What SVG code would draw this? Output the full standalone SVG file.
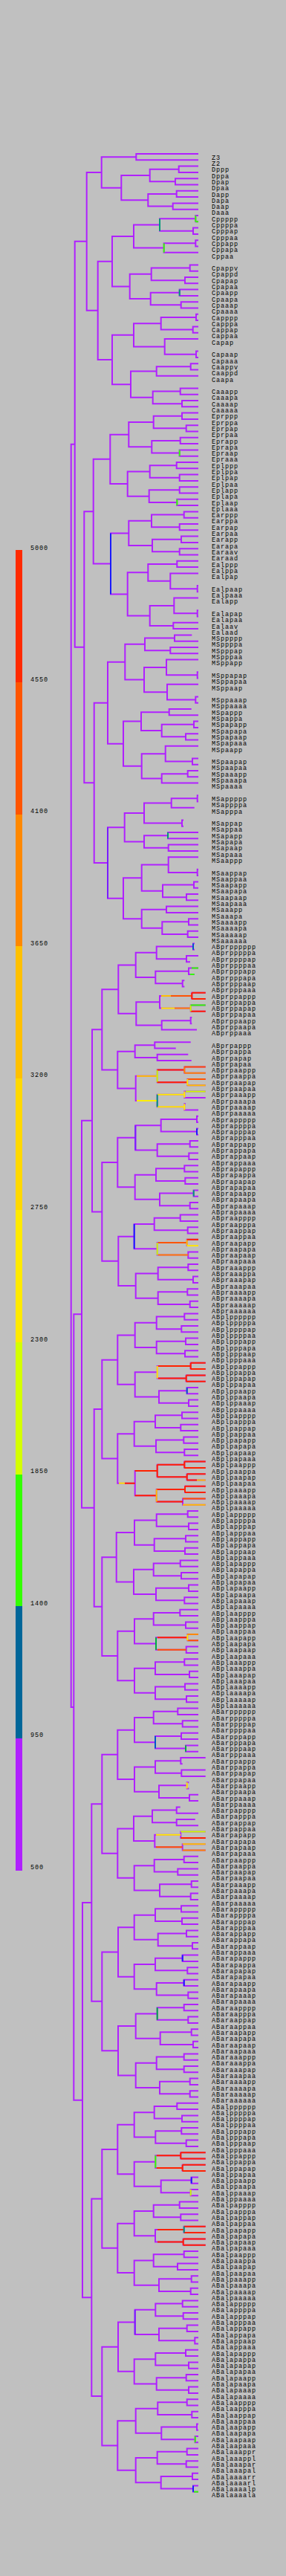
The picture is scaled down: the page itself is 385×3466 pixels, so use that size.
<svg xmlns="http://www.w3.org/2000/svg" width="385" height="3466" viewBox="0 0 385 3466">
<style>
.e path{fill:none;stroke:#B020FF;stroke-width:2;vector-effect:non-scaling-stroke;stroke-linejoin:miter;stroke-linecap:butt}
.o path{fill:none;stroke-width:2;vector-effect:non-scaling-stroke;stroke-linecap:butt}
.R{stroke:#FF2200}.OR{stroke:#FF5500}.O{stroke:#FF8800}.A{stroke:#FFC000}.Y{stroke:#FFEE00}.YG{stroke:#CCFF00}.G{stroke:#33FF00}.T{stroke:#009977}.B{stroke:#1A1AFF}.BP{stroke:#7A1CFF}.DB{stroke:#0055CC}.DG{stroke:#00AA44}
text{font-family:"Liberation Mono","DejaVu Sans Mono",monospace;font-size:8.5px;letter-spacing:0.9px;fill:#000}
</style>
<rect width="385" height="3466" fill="#C0C0C0"/>
<g id="legend">
<rect x="21" y="740" width="9" height="178" fill="#FF2A00"/>
<rect x="21" y="918" width="9" height="178" fill="#FF5500"/>
<rect x="21" y="1096" width="9" height="177" fill="#FF8800"/>
<rect x="21" y="1273" width="9" height="178" fill="#FFC000"/>
<rect x="21" y="1451" width="9" height="177" fill="#FFD800"/>
<rect x="21" y="1628" width="9" height="178" fill="#FFEA00"/>
<rect x="21" y="1806" width="9" height="178" fill="#D4FF00"/>
<rect x="21" y="1984" width="9" height="177" fill="#33FF00"/>
<rect x="21" y="2161" width="9" height="178" fill="#006699"/>
<rect x="21" y="2339" width="9" height="178" fill="#B020FF"/>
<text x="41" y="739.5">5000</text>
<text x="41" y="917.4">4550</text>
<text x="41" y="1094.4">4100</text>
<text x="41" y="1272.4">3650</text>
<text x="41" y="1449.4">3200</text>
<text x="41" y="1627.4">2750</text>
<text x="41" y="1805.4">2300</text>
<text x="41" y="1982.4">1850</text>
<text x="41" y="2160.4">1400</text>
<text x="41" y="2337.4">950</text>
<text x="41" y="2515">500</text>
</g>
<g id="connectors" class="e" transform="matrix(1 0 0 8.3 0 207)">
<path id="c-P4" d="M267 0H183.3V1H267"/>
<path id="c-Dpp" d="M267 2H240.7V3H267"/>
<path id="c-Dpa" d="M267 4H236V5H267"/>
<path id="c-Dp" d="M240.7 2.5H201.7V4.5H236"/>
<path id="c-Dap" d="M267 6H237.7V7H267"/>
<path id="c-Daa" d="M267 8H232.7V9H267"/>
<path id="c-Da" d="M237.7 6.5H199.3V8.5H232.7"/>
<path id="c-D" d="M201.7 3.5H163.3V7.5H199.3"/>
<path id="c-P3" d="M183.3 0.5H136.7V5.5H163.3"/>
<path id="c-Cpppp" d="M267 10H263.3V11H267"/>
<path id="c-Cpppa" d="M267 12H260V13H267"/>
<path id="c-Cppp" d="M263.3 10.5H215V12.5H260"/>
<path id="c-Cppap" d="M267 14H263.3V15H267"/>
<path id="c-Cppa" d="M263.3 14.5H220.7V16H267"/>
<path id="c-Cpp" d="M215 11.5H180V15.25H220.7"/>
<path id="c-Cpapp" d="M267 18H255.7V19H267"/>
<path id="c-Cpapa" d="M267 20H249V21H267"/>
<path id="c-Cpap" d="M255.7 18.5H203.7V20.5H249"/>
<path id="c-Cpaap" d="M267 22H241.7V23H267"/>
<path id="c-Cpaaa" d="M267 24H243.7V25H267"/>
<path id="c-Cpaa" d="M241.7 22.5H202.7V24.5H243.7"/>
<path id="c-Cpa" d="M203.7 19.5H174.7V23.5H202.7"/>
<path id="c-Cp" d="M180 13.375H151V21.5H174.7"/>
<path id="c-Cappp" d="M267 26H264V27H267"/>
<path id="c-Cappa" d="M267 28H259.7V29H267"/>
<path id="c-Capp" d="M264 26.5H216.7V28.5H259.7"/>
<path id="c-Capaa" d="M267 32H264V33H267"/>
<path id="c-Capa" d="M267 30H221.7V32.5H264"/>
<path id="c-Cap" d="M216.7 27.5H180V31.25H221.7"/>
<path id="c-Caapp" d="M267 34H256.7V35H267"/>
<path id="c-Caap" d="M256.7 34.5H210.7V36H267"/>
<path id="c-Caaap" d="M267 38H242.7V39H267"/>
<path id="c-Caaaa" d="M267 40H245V41H267"/>
<path id="c-Caaa" d="M242.7 38.5H205.7V40.5H245"/>
<path id="c-Caa" d="M210.7 35.25H176V39.5H205.7"/>
<path id="c-Ca" d="M180 29.375H151V37.375H176"/>
<path id="c-C" d="M151 17.4375H131.7V33.375H151"/>
<path id="c-P2" d="M136.7 3H116.7V25.406H131.7"/>
<path id="c-Eprpp" d="M267 42H245V43H267"/>
<path id="c-Eprpa" d="M267 44H250.7V45H267"/>
<path id="c-Eprp" d="M245 42.5H206.7V44.5H250.7"/>
<path id="c-Eprap" d="M267 46H242.7V47H267"/>
<path id="c-Epraa" d="M267 48H241.7V49H267"/>
<path id="c-Epra" d="M242.7 46.5H204.3V48.5H241.7"/>
<path id="c-Epr" d="M206.7 43.5H173.3V47.5H204.3"/>
<path id="c-Eplpp" d="M267 50H237.7V51H267"/>
<path id="c-Eplpa" d="M267 52H241.7V53H267"/>
<path id="c-Eplp" d="M237.7 50.5H201.7V52.5H241.7"/>
<path id="c-Eplap" d="M267 54H241.7V55H267"/>
<path id="c-Eplaa" d="M267 56H238.3V57H267"/>
<path id="c-Epla" d="M241.7 54.5H200.7V56.5H238.3"/>
<path id="c-Epl" d="M201.7 51.5H171.7V55.5H200.7"/>
<path id="c-Ep" d="M173.3 45.5H148.3V53.5H171.7"/>
<path id="c-Earpp" d="M267 58H247.7V59H267"/>
<path id="c-Earpa" d="M267 60H241.7V61H267"/>
<path id="c-Earp" d="M247.7 58.5H204V60.5H241.7"/>
<path id="c-Earap" d="M267 62H244V63H267"/>
<path id="c-Earaa" d="M267 64H241.7V65H267"/>
<path id="c-Eara" d="M244 62.5H205V64.5H241.7"/>
<path id="c-Ear" d="M204 59.5H173.3V63.5H205"/>
<path id="c-Ealpp" d="M267 66H238.3V67H267"/>
<path id="c-Ealpaa" d="M267 70H265.7V71H267"/>
<path id="c-Ealpa" d="M267 68H229.3V70.5H265.7"/>
<path id="c-Ealp" d="M238.3 66.5H199.3V69.25H229.3"/>
<path id="c-Ealapa" d="M267 74H265.7V75H267"/>
<path id="c-Ealap" d="M267 72H234.3V74.5H265.7"/>
<path id="c-Ealaa" d="M267 76H233.3V77H267"/>
<path id="c-Eala" d="M234.3 73.25H201.7V76.5H233.3"/>
<path id="c-Eal" d="M199.3 67.875H171.7V74.875H201.7"/>
<path id="c-Ea" d="M173.3 61.5H149V71.375H171.7"/>
<path id="c-E" d="M148.3 49.5H125.7V66.4375H149"/>
<path id="c-MSpppp" d="M258.3 78H235V79H267"/>
<path id="c-MSpppa" d="M267 80H229.3V81H267"/>
<path id="c-MSppp" d="M235 78.5H195V80.5H229.3"/>
<path id="c-MSppapa" d="M267 84H265.7V85H267"/>
<path id="c-MSppap" d="M267 82H224V84.5H265.7"/>
<path id="c-MSppaaa" d="M267 88H263.3V89H267"/>
<path id="c-MSppaa" d="M267 86H225V88.5H263.3"/>
<path id="c-MSppa" d="M224 83.25H194V87.25H225"/>
<path id="c-MSpp" d="M195 79.5H168.3V85.25H194"/>
<path id="c-MSpapp" d="M257.7 90H227.7V91H267"/>
<path id="c-MSpapap" d="M267 92H261V93H267"/>
<path id="c-MSpapaa" d="M267 94H250V95H267"/>
<path id="c-MSpapa" d="M261 92.5H217.7V94.5H250"/>
<path id="c-MSpap" d="M227.7 90.5H190V93.5H217.7"/>
<path id="c-MSpaapa" d="M267 98H259V99H267"/>
<path id="c-MSpaap" d="M267 96H222.7V98.5H259"/>
<path id="c-MSpaaap" d="M267 100H252.7V101H267"/>
<path id="c-MSpaaa" d="M252.7 100.5H217.7V102H267"/>
<path id="c-MSpaa" d="M222.7 97.25H190.7V101.25H217.7"/>
<path id="c-MSpa" d="M190 92H166V99.25H190.7"/>
<path id="c-MSp" d="M168.3 82.375H145V95.625H166"/>
<path id="c-MSapppp" d="M267 104H265.7V105H267"/>
<path id="c-MSappp" d="M265.7 104.5H230.7V106H261.7"/>
<path id="c-MSappa" d="M247 108H245V109H247"/>
<path id="c-MSapp" d="M230.7 105.25H194V108.5H245"/>
<path id="c-MSapap" d="M267 110H226V111H267"/>
<path id="c-MSapaa" d="M267 112H226.7V113H267"/>
<path id="c-MSapa" d="M226 110.5H194V112.5H226.7"/>
<path id="c-MSap" d="M194 106.875H167.7V111.5H194"/>
<path id="c-MSaappa" d="M267 116H265.7V117H267"/>
<path id="c-MSaapp" d="M267 114H226.7V116.5H265.7"/>
<path id="c-MSaapap" d="M267 118H261V119H267"/>
<path id="c-MSaapaa" d="M267 120H251V121H267"/>
<path id="c-MSaapa" d="M261 118.5H219V120.5H251"/>
<path id="c-MSaap" d="M226.7 115.25H190.7V119.5H219"/>
<path id="c-MSaaap" d="M267 122H224V123H267"/>
<path id="c-MSaaaap" d="M267 124H254V125H267"/>
<path id="c-MSaaaaa" d="M267 126H252.7V127H267"/>
<path id="c-MSaaaa" d="M254 124.5H218.3V126.5H252.7"/>
<path id="c-MSaaa" d="M224 122.5H190.7V125.5H218.3"/>
<path id="c-MSaa" d="M190.7 117.375H166V124H190.7"/>
<path id="c-MSa" d="M167.7 109.19H145V120.69H166"/>
<path id="c-MS" d="M145 89H126.7V114.94H145"/>
<path id="c-EMS" d="M125.7 57.97H113.3V101.97H126.7"/>
<path id="c-P1" d="M116.7 14.2H100.7V79.97H113.3"/>
<path id="c-ABprppppp" d="M262 128H260V129H262"/>
<path id="c-ABprppppa" d="M267 130H251V131H256"/>
<path id="c-ABprpppp" d="M260 128.5H210.7V130.5H251"/>
<path id="c-ABprpppap" d="M267 132H254V133H261.7"/>
<path id="c-ABprpppaa" d="M248.3 134H245.7V135H248.3"/>
<path id="c-ABprpppa" d="M254 132.5H209.3V134.5H245.7"/>
<path id="c-ABprppp" d="M210.7 129.5H182.7V133.5H209.3"/>
<path id="c-ABprppapp" d="M276.7 136H258.3V137H276.7"/>
<path id="c-ABprppapa" d="M276.7 138H256.7V139H276.7"/>
<path id="c-ABprppap" d="M258.3 136.5H215V138.5H256.7"/>
<path id="c-ABprppaap" d="M258.3 140H256.7V141H258.3"/>
<path id="c-ABprppaa" d="M256.7 140.5H217.7V142H265"/>
<path id="c-ABprppa" d="M215 137.5H183.3V141.25H217.7"/>
<path id="c-ABprpp" d="M182.7 131.5H159.3V139.375H183.3"/>
<path id="c-ABprpapp" d="M256.7 144H208.3V145H236.7"/>
<path id="c-ABprpapa" d="M253.3 146H211.7V147H257.7"/>
<path id="c-ABprpap" d="M208.3 144.5H181.7V146.5H211.7"/>
<path id="c-ABprpaapp" d="M276.7 148H248.3V149H276.7"/>
<path id="c-ABprpaapa" d="M276.7 150H252.3V151H276.7"/>
<path id="c-ABprpaap" d="M248.3 148.5H211.7V150.5H252.3"/>
<path id="c-ABprpaaap" d="M276.7 152H248.3V153H276.7"/>
<path id="c-ABprpaaaa" d="M250 154H248.3V155H267"/>
<path id="c-ABprpaaa" d="M248.3 152.5H211.7V154.5H248.3"/>
<path id="c-ABprpaa" d="M211.7 149.5H182.7V153.5H211.7"/>
<path id="c-ABprpa" d="M181.7 145.5H158.3V151.5H182.7"/>
<path id="c-ABprp" d="M159.3 135.4375H137.3V148.5H158.3"/>
<path id="c-ABprapppp" d="M267 156H265V157H267"/>
<path id="c-ABprapppa" d="M267 158H265V159H267"/>
<path id="c-ABprappp" d="M265 156.5H216.7V158.5H265"/>
<path id="c-ABprappap" d="M267 160H255.7V161H267"/>
<path id="c-ABprappaa" d="M267 162H254.3V163H267"/>
<path id="c-ABprappa" d="M255.7 160.5H211.7V162.5H254.3"/>
<path id="c-ABprapp" d="M216.7 157.5H182.3V161.5H211.7"/>
<path id="c-ABprapapp" d="M267 164H248.3V165H267"/>
<path id="c-ABprapapa" d="M267 166H249.3V167H267"/>
<path id="c-ABprapap" d="M248.3 164.5H210V166.5H249.3"/>
<path id="c-ABprapaap" d="M267 168H260.7V169H267"/>
<path id="c-ABprapaaa" d="M267 170H255.7V171H267"/>
<path id="c-ABprapaa" d="M260.7 168.5H215V170.5H255.7"/>
<path id="c-ABprapa" d="M210 165.5H181.7V169.5H215"/>
<path id="c-ABprap" d="M182.3 159.5H158.3V167.5H181.7"/>
<path id="c-ABpraappp" d="M267 172H242.7V173H267"/>
<path id="c-ABpraappa" d="M267 174H252.7V175H267"/>
<path id="c-ABpraapp" d="M242.7 172.5H207.7V174.5H252.7"/>
<path id="c-ABpraapap" d="M267 176H251.7V177H267"/>
<path id="c-ABpraapaa" d="M267 178H253.3V179H267"/>
<path id="c-ABpraapa" d="M251.7 176.5H211.7V178.5H253.3"/>
<path id="c-ABpraap" d="M207.7 173.5H180.7V177.5H211.7"/>
<path id="c-ABpraaapp" d="M267 180H253.3V181H267"/>
<path id="c-ABpraaapa" d="M267 182H260V183H267"/>
<path id="c-ABpraaap" d="M253.3 180.5H212.7V182.5H260"/>
<path id="c-ABpraaaap" d="M267 184H252.3V185H267"/>
<path id="c-ABpraaaaa" d="M267 186H255.7V187H267"/>
<path id="c-ABpraaaa" d="M252.3 184.5H212.7V186.5H255.7"/>
<path id="c-ABpraaa" d="M212.7 181.5H182.7V185.5H212.7"/>
<path id="c-ABpraa" d="M180.7 175.5H159.3V183.5H182.7"/>
<path id="c-ABpra" d="M158.3 163.5H137.3V179.5H159.3"/>
<path id="c-ABpr" d="M137.3 141.97H124V171.5H137.3"/>
<path id="c-ABplppppp" d="M267 188H248.3V189H267"/>
<path id="c-ABplppppa" d="M267 190H244.3V191H267"/>
<path id="c-ABplpppp" d="M248.3 188.5H210.7V190.5H244.3"/>
<path id="c-ABplpppap" d="M267 192H250V193H267"/>
<path id="c-ABplpppaa" d="M267 194H249V195H267"/>
<path id="c-ABplpppa" d="M250 192.5H210.7V194.5H249"/>
<path id="c-ABplppp" d="M210.7 189.5H181.7V193.5H210.7"/>
<path id="c-ABplppapp" d="M276.7 196H256.7V197H276.7"/>
<path id="c-ABplppapa" d="M276.7 198H250.7V199H276.7"/>
<path id="c-ABplppap" d="M256.7 196.5H211.7V198.5H250.7"/>
<path id="c-ABplppaap" d="M267 200H251.7V201H267"/>
<path id="c-ABplppaaa" d="M267 202H254V203H267"/>
<path id="c-ABplppaa" d="M251.7 200.5H214V202.5H254"/>
<path id="c-ABplppa" d="M211.7 197.5H181.7V201.5H214"/>
<path id="c-ABplpp" d="M181.7 191.5H158.3V199.5H181.7"/>
<path id="c-ABplpappp" d="M267 204H245V205H267"/>
<path id="c-ABplpappa" d="M267 206H243.3V207H267"/>
<path id="c-ABplpapp" d="M245 204.5H209V206.5H243.3"/>
<path id="c-ABplpapap" d="M267 208H247.3V209H267"/>
<path id="c-ABplpapaa" d="M267 210H248.3V211H267"/>
<path id="c-ABplpapa" d="M247.3 208.5H210V210.5H248.3"/>
<path id="c-ABplpap" d="M209 205.5H180.7V209.5H210"/>
<path id="c-ABplpaapp" d="M276.7 212H248.3V213H276.7"/>
<path id="c-ABplpaapa" d="M276.7 214H251.7V215H276.7"/>
<path id="c-ABplpaap" d="M248.3 212.5H211.7V214.5H251.7"/>
<path id="c-ABplpaaap" d="M276.7 216H249V217H276.7"/>
<path id="c-ABplpaaaa" d="M276.7 218H246V219H276.7"/>
<path id="c-ABplpaaa" d="M249 216.5H210.7V218.5H246"/>
<path id="c-ABplpaa" d="M211.7 213.5H181.7V217.5H210.7"/>
<path id="c-ABplpa" d="M180.7 207.5H158.3V215.5H181.7"/>
<path id="c-ABplp" d="M158.3 195.5H137.3V211.5H158.3"/>
<path id="c-ABplapppp" d="M267 220H252.7V221H267"/>
<path id="c-ABplapppa" d="M267 222H254V223H267"/>
<path id="c-ABplappp" d="M252.7 220.5H210.7V222.5H254"/>
<path id="c-ABplappap" d="M267 224H250V225H267"/>
<path id="c-ABplappaa" d="M267 226H249V227H267"/>
<path id="c-ABplappa" d="M250 224.5H207.7V226.5H249"/>
<path id="c-ABplapp" d="M210.7 221.5H181V225.5H207.7"/>
<path id="c-ABplapapp" d="M267 228H242.7V229H267"/>
<path id="c-ABplapapa" d="M267 230H244V231H267"/>
<path id="c-ABplapap" d="M242.7 228.5H206.7V230.5H244"/>
<path id="c-ABplapaap" d="M267 232H254V233H267"/>
<path id="c-ABplapaaa" d="M267 234H248.3V235H267"/>
<path id="c-ABplapaa" d="M254 232.5H210V234.5H248.3"/>
<path id="c-ABplapa" d="M206.7 229.5H180V233.5H210"/>
<path id="c-ABplap" d="M181 223.5H156.7V231.5H180"/>
<path id="c-ABplaappp" d="M267 236H242.3V237H267"/>
<path id="c-ABplaappa" d="M267 238H250V239H267"/>
<path id="c-ABplaapp" d="M242.3 236.5H206.7V238.5H250"/>
<path id="c-ABplaapap" d="M267 240H252.3V241H267"/>
<path id="c-ABplaapaa" d="M267 242H250.7V243H267"/>
<path id="c-ABplaapa" d="M252.3 240.5H210V242.5H250.7"/>
<path id="c-ABplaap" d="M206.7 237.5H181V241.5H210"/>
<path id="c-ABplaaapp" d="M267 244H248.3V245H267"/>
<path id="c-ABplaaapa" d="M267 246H255V247H267"/>
<path id="c-ABplaaap" d="M248.3 244.5H209V246.5H255"/>
<path id="c-ABplaaaap" d="M267 248H249V249H267"/>
<path id="c-ABplaaaaa" d="M267 250H251V251H267"/>
<path id="c-ABplaaaa" d="M249 248.5H209V250.5H251"/>
<path id="c-ABplaaa" d="M209 245.5H181V249.5H209"/>
<path id="c-ABplaa" d="M181 239.5H158.3V247.5H181"/>
<path id="c-ABpla" d="M156.7 227.5H137.3V243.5H158.3"/>
<path id="c-ABpl" d="M137.3 203.5H126.7V235.5H137.3"/>
<path id="c-ABp" d="M124 156.73H110V219.5H126.7"/>
<path id="c-ABarppppp" d="M267 252H239.3V253H267"/>
<path id="c-ABarppppa" d="M267 254H245.7V255H267"/>
<path id="c-ABarpppp" d="M239.3 252.5H206.7V254.5H245.7"/>
<path id="c-ABarpppap" d="M267 256H244V257H267"/>
<path id="c-ABarpppaa" d="M267 258H250V259H267"/>
<path id="c-ABarpppa" d="M244 256.5H209V258.5H250"/>
<path id="c-ABarppp" d="M206.7 253.5H181V257.5H209"/>
<path id="c-ABarppapp" d="M276.7 260H243.3V261H245.7"/>
<path id="c-ABarppapa" d="M276.7 262H244.3V263H276.7"/>
<path id="c-ABarppap" d="M243.3 260.5H209V262.5H244.3"/>
<path id="c-ABarppaap" d="M254.3 264H251.7V265H254.3"/>
<path id="c-ABarppaaa" d="M267 266H255V267H267"/>
<path id="c-ABarppaa" d="M251.7 264.5H214V266.5H255"/>
<path id="c-ABarppa" d="M209 261.5H181V265.5H214"/>
<path id="c-ABarpp" d="M181 255.5H158.3V263.5H181"/>
<path id="c-ABarpappp" d="M242.7 268H237.7V269H267"/>
<path id="c-ABarpappa" d="M262.7 270H237.7V271H267"/>
<path id="c-ABarpapp" d="M237.7 268.5H205V270.5H237.7"/>
<path id="c-ABarpapap" d="M276.7 272H243.3V273H276.7"/>
<path id="c-ABarpapaa" d="M276.7 274H245.7V275H276.7"/>
<path id="c-ABarpapa" d="M243.3 272.5H208.3V274.5H245.7"/>
<path id="c-ABarpap" d="M205 269.5H180V273.5H208.3"/>
<path id="c-ABarpaapp" d="M267 276H247.7V277H267"/>
<path id="c-ABarpaapa" d="M267 278H239.3V279H267"/>
<path id="c-ABarpaap" d="M247.7 276.5H207.7V278.5H239.3"/>
<path id="c-ABarpaaap" d="M267 280H257.7V281H267"/>
<path id="c-ABarpaaaa" d="M267 282H256.7V283H267"/>
<path id="c-ABarpaaa" d="M257.7 280.5H215V282.5H256.7"/>
<path id="c-ABarpaa" d="M207.7 277.5H180.7V281.5H215"/>
<path id="c-ABarpa" d="M180 271.5H158.3V279.5H180.7"/>
<path id="c-ABarp" d="M158.3 259.5H137.3V275.5H158.3"/>
<path id="c-ABarapppp" d="M267 284H244V285H267"/>
<path id="c-ABarapppa" d="M267 286H245V287H267"/>
<path id="c-ABarappp" d="M244 284.5H209V286.5H245"/>
<path id="c-ABarappap" d="M267 288H251V289H267"/>
<path id="c-ABarappaa" d="M267 290H259V291H267"/>
<path id="c-ABarappa" d="M251 288.5H212.7V290.5H259"/>
<path id="c-ABarapp" d="M209 285.5H180.7V289.5H212.7"/>
<path id="c-ABarapapp" d="M267 292H245.7V293H267"/>
<path id="c-ABarapapa" d="M267 294H252.3V295H267"/>
<path id="c-ABarapap" d="M245.7 292.5H209V294.5H252.3"/>
<path id="c-ABarapaap" d="M267 296H247.7V297H267"/>
<path id="c-ABarapaaa" d="M267 298H253.3V299H267"/>
<path id="c-ABarapaa" d="M247.7 296.5H210.7V298.5H253.3"/>
<path id="c-ABarapa" d="M209 293.5H180.7V297.5H210.7"/>
<path id="c-ABarap" d="M180.7 287.5H159V295.5H180.7"/>
<path id="c-ABaraappp" d="M267 300H247.7V301H267"/>
<path id="c-ABaraappa" d="M267 302H253.3V303H267"/>
<path id="c-ABaraapp" d="M247.7 300.5H211.7V302.5H253.3"/>
<path id="c-ABaraapap" d="M267 304H257.7V305H267"/>
<path id="c-ABaraapaa" d="M267 306H260V307H267"/>
<path id="c-ABaraapa" d="M257.7 304.5H215.7V306.5H260"/>
<path id="c-ABaraap" d="M211.7 301.5H182.7V305.5H215.7"/>
<path id="c-ABaraaapp" d="M267 308H247.7V309H267"/>
<path id="c-ABaraaapa" d="M267 310H247.7V311H267"/>
<path id="c-ABaraaap" d="M247.7 308.5H210.7V310.5H247.7"/>
<path id="c-ABaraaaap" d="M267 312H255.7V313H267"/>
<path id="c-ABaraaaaa" d="M267 314H255.7V315H267"/>
<path id="c-ABaraaaa" d="M255.7 312.5H215V314.5H255.7"/>
<path id="c-ABaraaa" d="M210.7 309.5H182.7V313.5H215"/>
<path id="c-ABaraa" d="M182.7 303.5H159V311.5H182.7"/>
<path id="c-ABara" d="M159 291.5H137.3V307.5H159"/>
<path id="c-ABar" d="M137.3 267.5H123.3V299.5H137.3"/>
<path id="c-ABalppppp" d="M267 316H238.3V317H267"/>
<path id="c-ABalppppa" d="M267 318H245V319H267"/>
<path id="c-ABalpppp" d="M238.3 316.5H207.7V318.5H245"/>
<path id="c-ABalpppap" d="M267 320H244.3V321H267"/>
<path id="c-ABalpppaa" d="M267 322H250.7V323H267"/>
<path id="c-ABalpppa" d="M244.3 320.5H209.3V322.5H250.7"/>
<path id="c-ABalppp" d="M207.7 317.5H180.7V321.5H209.3"/>
<path id="c-ABalppapp" d="M276.7 324H243.3V325H276.7"/>
<path id="c-ABalppapa" d="M276.7 326H245.7V327H276.7"/>
<path id="c-ABalppap" d="M243.3 324.5H209.3V326.5H245.7"/>
<path id="c-ABalppaap" d="M267 328H257.7V329H267"/>
<path id="c-ABalppaaa" d="M267 330H256.7V331H267"/>
<path id="c-ABalppaa" d="M257.7 328.5H216.7V330.5H256.7"/>
<path id="c-ABalppa" d="M209.3 325.5H180.7V329.5H216.7"/>
<path id="c-ABalpp" d="M180.7 319.5H158.3V327.5H180.7"/>
<path id="c-ABalpappp" d="M267 332H241.7V333H267"/>
<path id="c-ABalpappa" d="M267 334H243.3V335H267"/>
<path id="c-ABalpapp" d="M241.7 332.5H206.7V334.5H243.3"/>
<path id="c-ABalpapap" d="M276.7 336H247.7V337H276.7"/>
<path id="c-ABalpapaa" d="M276.7 338H246.7V339H276.7"/>
<path id="c-ABalpapa" d="M247.7 336.5H209V338.5H246.7"/>
<path id="c-ABalpap" d="M206.7 333.5H180.7V337.5H209"/>
<path id="c-ABalpaapp" d="M267 340H247.7V341H267"/>
<path id="c-ABalpaapa" d="M267 342H239V343H267"/>
<path id="c-ABalpaap" d="M247.7 340.5H206.7V342.5H239"/>
<path id="c-ABalpaaap" d="M267 344H257.7V345H267"/>
<path id="c-ABalpaaaa" d="M267 346H256.7V347H267"/>
<path id="c-ABalpaaa" d="M257.7 344.5H214V346.5H256.7"/>
<path id="c-ABalpaa" d="M206.7 341.5H180.7V345.5H214"/>
<path id="c-ABalpa" d="M180.7 335.5H158.3V343.5H180.7"/>
<path id="c-ABalp" d="M158.3 323.5H137.3V339.5H158.3"/>
<path id="c-ABalapppp" d="M267 348H245.7V349H267"/>
<path id="c-ABalapppa" d="M267 350H246.7V351H267"/>
<path id="c-ABalappp" d="M245.7 348.5H209.3V350.5H246.7"/>
<path id="c-ABalappap" d="M267 352H251.7V353H267"/>
<path id="c-ABalappaa" d="M267 354H262.3V355H267"/>
<path id="c-ABalappa" d="M251.7 352.5H214V354.5H262.3"/>
<path id="c-ABalapp" d="M209.3 349.5H181.7V353.5H214"/>
<path id="c-ABalapapp" d="M267 356H250V357H267"/>
<path id="c-ABalapapa" d="M267 358H254V359H267"/>
<path id="c-ABalapap" d="M250 356.5H209.3V358.5H254"/>
<path id="c-ABalapaap" d="M267 360H250.7V361H267"/>
<path id="c-ABalapaaa" d="M267 362H254V363H267"/>
<path id="c-ABalapaa" d="M250.7 360.5H210.7V362.5H254"/>
<path id="c-ABalapa" d="M209.3 357.5H180.7V361.5H210.7"/>
<path id="c-ABalap" d="M181.7 351.5H159V359.5H180.7"/>
<path id="c-ABalaappp" d="M267 364H251.7V365H267"/>
<path id="c-ABalaappa" d="M267 366H258.3V367H267"/>
<path id="c-ABalaapp" d="M251.7 364.5H212.3V366.5H258.3"/>
<path id="c-ABalaapap" d="M267 368H265V369H267"/>
<path id="c-ABalaapaa" d="M267 370H262.7V371H267"/>
<path id="c-ABalaapa" d="M265 368.5H217.3V370.5H262.7"/>
<path id="c-ABalaap" d="M212.3 365.5H182.7V369.5H217.3"/>
<path id="c-ABalaaapp" d="M267 372H251.7V373H267"/>
<path id="c-ABalaaapa" d="M267 374H250.7V375H267"/>
<path id="c-ABalaaap" d="M251.7 372.5H211.7V374.5H250.7"/>
<path id="c-ABalaaaar" d="M267 376H259V377H267"/>
<path id="c-ABalaaaal" d="M267 378H260V379H267"/>
<path id="c-ABalaaaa" d="M259 376.5H216.7V378.5H260"/>
<path id="c-ABalaaa" d="M211.7 373.5H182.7V377.5H216.7"/>
<path id="c-ABalaa" d="M182.7 367.5H158.3V375.5H182.7"/>
<path id="c-ABala" d="M159 355.5H137.3V371.5H158.3"/>
<path id="c-ABal" d="M137.3 331.5H123.3V363.5H137.3"/>
<path id="c-ABa" d="M123.3 283.5H111V347.5H123.3"/>
<path id="c-AB" d="M110 188.11H99.3V315.5H111"/>
<path id="c-P0" d="M100.7 47.09H95.7V251.8H99.3"/>
</g>
<g id="highlights" class="o" transform="matrix(1 0 0 8.3 0 207)">
<path class="T" d="M215 10.5V12.5"/>
<path class="G" d="M263.3 10V11M263.3 11H267"/>
<path class="G" d="M220.7 14.5V16"/>
<path class="T" d="M241.7 22V23"/>
<path class="G" d="M241.7 48V49"/>
<path class="G" d="M238.3 56V57"/>
<path class="B" d="M149 61.5V71.375"/>
<path class="BP" d="M145 109.19V120.69"/>
<path class="T" d="M226 110V111"/>
<path class="DB" d="M260 128V129"/>
<path class="G" d="M258 132H267M256 133H261.7"/>
<path class="A" d="M217 136.5H230"/>
<path class="OR" d="M230 136.5H258.3"/>
<path class="Y" d="M217 138.5H235"/>
<path class="O" d="M235 138.5H256.7"/>
<path class="R" d="M258.3 136V137M258.3 136H276.7M258.3 137H276.7M256.7 139H276.7"/>
<path class="YG" d="M256.7 138V139"/>
<path class="G" d="M256.7 138H276.7"/>
<path class="A" d="M184 149.5H211.7"/>
<path class="YG" d="M211.7 148.5V150.5"/>
<path class="R" d="M211.7 148.5H248.3M211.7 150.5H252.3"/>
<path class="O" d="M248.3 148V149M248.3 149H276.7"/>
<path class="OR" d="M248.3 148H276.7M252.3 150H276.7"/>
<path class="Y" d="M252.3 150V151"/>
<path class="A" d="M252.3 151H276.7"/>
<path class="Y" d="M184 153.5H211.7M211.7 152.5H248.3M211.7 154.5H248.3M248.3 152V153M248.3 154V155"/>
<path class="T" d="M211.7 152.5V154.5"/>
<path class="YG" d="M250 152H276.7"/>
<path class="BP" d="M182.3 157.5V161.5"/>
<path class="B" d="M265 158V159"/>
<path class="T" d="M260.7 168V169"/>
<path class="B" d="M180.7 173.5V177.5"/>
<path class="YG" d="M211.7 176.5V178.5"/>
<path class="OR" d="M213 176.5H251.7"/>
<path class="O" d="M213 178.5H253.3"/>
<path class="A" d="M251.7 176V177"/>
<path class="R" d="M251.7 176H267"/>
<path class="Y" d="M251.7 177H267"/>
<path class="Y" d="M211.7 196.5V198.5"/>
<path class="R" d="M213 196.5H256.7M213 198.5H250.7M256.7 196V197M250.7 198V199M256.7 196H276.7M256.7 197H276.7M250.7 198H276.7M250.7 199H276.7"/>
<path class="DB" d="M251.7 200V201"/>
<path class="Y" d="M160 215.5H168"/>
<path class="R" d="M168 215.5H181.7M181.7 213.5H211.7M181.7 217.5H210.7M211.7 212.5V214.5M211.7 212.5H248.3M211.7 214.5H251.7M210.7 216.5H249M210.7 218.5H246M248.3 212V213M251.7 214V215M249 216V217M248.3 212H276.7M248.3 213H276.7M251.7 214H276.7M251.7 215H265M249 216H276.7M249 217H276.7"/>
<path class="A" d="M210.7 216.5V218.5M265 215H276.7M246 219H276.7"/>
<path class="OR" d="M246 218H276.7"/>
<path class="DG" d="M210 240.5V242.5"/>
<path class="R" d="M212 240.5H252.3"/>
<path class="OR" d="M212 242.5H250.7M252.3 241H267"/>
<path class="Y" d="M252.3 240V241"/>
<path class="O" d="M252.3 240H267"/>
<path class="DB" d="M209 256.5V258.5"/>
<path class="DG" d="M250 258V259"/>
<path class="Y" d="M251.7 264V265"/>
<path class="Y" d="M210 272.5H243.3"/>
<path class="OR" d="M210 274.5H245.7"/>
<path class="YG" d="M243.3 272H276.7"/>
<path class="R" d="M243.3 273H276.7"/>
<path class="A" d="M245.7 274H276.7"/>
<path class="O" d="M245.7 275H276.7"/>
<path class="B" d="M245.7 292V293M247.7 296V297"/>
<path class="DG" d="M211.7 300.5V302.5"/>
<path class="G" d="M209.3 324.5V326.5"/>
<path class="R" d="M211 324.5H243.3M211 326.5H245.7M243.3 324V325M245.7 326V327M243.3 324H276.7M243.3 325H276.7M245.7 326H276.7M245.7 327H276.7"/>
<path class="B" d="M257.7 328V329"/>
<path class="YG" d="M256.7 330V331"/>
<path class="R" d="M212 336.5H247.7M212 338.5H246.7M246.7 338V339M247.7 336H276.7M247.7 337H276.7M246.7 338H276.7M246.7 339H276.7"/>
<path class="T" d="M247.7 336V337"/>
<path class="BP" d="M181.7 349.5V353.5"/>
<path class="G" d="M262.7 370V371"/>
<path class="B" d="M260 378V379"/>
<path class="G" d="M261 379H267"/>
</g>
<g id="labels">
<text id="Z3" x="285" y="214.7">Z3</text>
<text id="Z2" x="285" y="223">Z2</text>
<text id="Dppp" x="285" y="231.3">Dppp</text>
<text id="Dppa" x="285" y="239.6">Dppa</text>
<text id="Dpap" x="285" y="247.9">Dpap</text>
<text id="Dpaa" x="285" y="256.2">Dpaa</text>
<text id="Dapp" x="285" y="264.5">Dapp</text>
<text id="Dapa" x="285" y="272.8">Dapa</text>
<text id="Daap" x="285" y="281.1">Daap</text>
<text id="Daaa" x="285" y="289.4">Daaa</text>
<text id="Cppppp" x="285" y="297.7">Cppppp</text>
<text id="Cppppa" x="285" y="306">Cppppa</text>
<text id="Cpppap" x="285" y="314.3">Cpppap</text>
<text id="Cpppaa" x="285" y="322.6">Cpppaa</text>
<text id="Cppapp" x="285" y="330.9">Cppapp</text>
<text id="Cppapa" x="285" y="339.2">Cppapa</text>
<text id="Cppaa" x="285" y="347.5">Cppaa</text>
<text id="Cpappv" x="285" y="364.1">Cpappv</text>
<text id="Cpappd" x="285" y="372.4">Cpappd</text>
<text id="Cpapap" x="285" y="380.7">Cpapap</text>
<text id="Cpapaa" x="285" y="389">Cpapaa</text>
<text id="Cpaapp" x="285" y="397.3">Cpaapp</text>
<text id="Cpaapa" x="285" y="405.6">Cpaapa</text>
<text id="Cpaaap" x="285" y="413.9">Cpaaap</text>
<text id="Cpaaaa" x="285" y="422.2">Cpaaaa</text>
<text id="Capppp" x="285" y="430.5">Capppp</text>
<text id="Capppa" x="285" y="438.8">Capppa</text>
<text id="Cappap" x="285" y="447.1">Cappap</text>
<text id="Cappaa" x="285" y="455.4">Cappaa</text>
<text id="Capap" x="285" y="463.7">Capap</text>
<text id="Capaap" x="285" y="480.3">Capaap</text>
<text id="Capaaa" x="285" y="488.6">Capaaa</text>
<text id="Caappv" x="285" y="496.9">Caappv</text>
<text id="Caappd" x="285" y="505.2">Caappd</text>
<text id="Caapa" x="285" y="513.5">Caapa</text>
<text id="Caaapp" x="285" y="530.1">Caaapp</text>
<text id="Caaapa" x="285" y="538.4">Caaapa</text>
<text id="Caaaap" x="285" y="546.7">Caaaap</text>
<text id="Caaaaa" x="285" y="555">Caaaaa</text>
<text id="Eprppp" x="285" y="563.3">Eprppp</text>
<text id="Eprppa" x="285" y="571.6">Eprppa</text>
<text id="Eprpap" x="285" y="579.9">Eprpap</text>
<text id="Eprpaa" x="285" y="588.2">Eprpaa</text>
<text id="Eprapp" x="285" y="596.5">Eprapp</text>
<text id="Eprapa" x="285" y="604.8">Eprapa</text>
<text id="Epraap" x="285" y="613.1">Epraap</text>
<text id="Epraaa" x="285" y="621.4">Epraaa</text>
<text id="Eplppp" x="285" y="629.7">Eplppp</text>
<text id="Eplppa" x="285" y="638">Eplppa</text>
<text id="Eplpap" x="285" y="646.3">Eplpap</text>
<text id="Eplpaa" x="285" y="654.6">Eplpaa</text>
<text id="Eplapp" x="285" y="662.9">Eplapp</text>
<text id="Eplapa" x="285" y="671.2">Eplapa</text>
<text id="Eplaap" x="285" y="679.5">Eplaap</text>
<text id="Eplaaa" x="285" y="687.8">Eplaaa</text>
<text id="Earppp" x="285" y="696.1">Earppp</text>
<text id="Earppa" x="285" y="704.4">Earppa</text>
<text id="Earpap" x="285" y="712.7">Earpap</text>
<text id="Earpaa" x="285" y="721">Earpaa</text>
<text id="Earapp" x="285" y="729.3">Earapp</text>
<text id="Earapa" x="285" y="737.6">Earapa</text>
<text id="Earaav" x="285" y="745.9">Earaav</text>
<text id="Earaad" x="285" y="754.2">Earaad</text>
<text id="Ealppp" x="285" y="762.5">Ealppp</text>
<text id="Ealppa" x="285" y="770.8">Ealppa</text>
<text id="Ealpap" x="285" y="779.1">Ealpap</text>
<text id="Ealpaap" x="285" y="795.7">Ealpaap</text>
<text id="Ealpaaa" x="285" y="804">Ealpaaa</text>
<text id="Ealapp" x="285" y="812.3">Ealapp</text>
<text id="Ealapap" x="285" y="828.9">Ealapap</text>
<text id="Ealapaa" x="285" y="837.2">Ealapaa</text>
<text id="Ealaav" x="285" y="845.5">Ealaav</text>
<text id="Ealaad" x="285" y="853.8">Ealaad</text>
<text id="MSppppp" x="285" y="862.1">MSppppp</text>
<text id="MSppppa" x="285" y="870.4">MSppppa</text>
<text id="MSpppap" x="285" y="878.7">MSpppap</text>
<text id="MSpppaa" x="285" y="887">MSpppaa</text>
<text id="MSppapp" x="285" y="895.3">MSppapp</text>
<text id="MSppapap" x="285" y="911.9">MSppapap</text>
<text id="MSppapaa" x="285" y="920.2">MSppapaa</text>
<text id="MSppaap" x="285" y="928.5">MSppaap</text>
<text id="MSppaaap" x="285" y="945.1">MSppaaap</text>
<text id="MSppaaaa" x="285" y="953.4">MSppaaaa</text>
<text id="MSpappp" x="285" y="961.7">MSpappp</text>
<text id="MSpappa" x="285" y="970">MSpappa</text>
<text id="MSpapapp" x="285" y="978.3">MSpapapp</text>
<text id="MSpapapa" x="285" y="986.6">MSpapapa</text>
<text id="MSpapaap" x="285" y="994.9">MSpapaap</text>
<text id="MSpapaaa" x="285" y="1003.2">MSpapaaa</text>
<text id="MSpaapp" x="285" y="1011.5">MSpaapp</text>
<text id="MSpaapap" x="285" y="1028.1">MSpaapap</text>
<text id="MSpaapaa" x="285" y="1036.4">MSpaapaa</text>
<text id="MSpaaapp" x="285" y="1044.7">MSpaaapp</text>
<text id="MSpaaapa" x="285" y="1053">MSpaaapa</text>
<text id="MSpaaaa" x="285" y="1061.3">MSpaaaa</text>
<text id="MSappppp" x="285" y="1077.9">MSappppp</text>
<text id="MSappppa" x="285" y="1086.2">MSappppa</text>
<text id="MSapppa" x="285" y="1094.5">MSapppa</text>
<text id="MSappap" x="285" y="1111.1">MSappap</text>
<text id="MSappaa" x="285" y="1119.4">MSappaa</text>
<text id="MSapapp" x="285" y="1127.7">MSapapp</text>
<text id="MSapapa" x="285" y="1136">MSapapa</text>
<text id="MSapaap" x="285" y="1144.3">MSapaap</text>
<text id="MSapaaa" x="285" y="1152.6">MSapaaa</text>
<text id="MSaappp" x="285" y="1160.9">MSaappp</text>
<text id="MSaappap" x="285" y="1177.5">MSaappap</text>
<text id="MSaappaa" x="285" y="1185.8">MSaappaa</text>
<text id="MSaapapp" x="285" y="1194.1">MSaapapp</text>
<text id="MSaapapa" x="285" y="1202.4">MSaapapa</text>
<text id="MSaapaap" x="285" y="1210.7">MSaapaap</text>
<text id="MSaapaaa" x="285" y="1219">MSaapaaa</text>
<text id="MSaaapp" x="285" y="1227.3">MSaaapp</text>
<text id="MSaaapa" x="285" y="1235.6">MSaaapa</text>
<text id="MSaaaapp" x="285" y="1243.9">MSaaaapp</text>
<text id="MSaaaapa" x="285" y="1252.2">MSaaaapa</text>
<text id="MSaaaaap" x="285" y="1260.5">MSaaaaap</text>
<text id="MSaaaaaa" x="285" y="1268.8">MSaaaaaa</text>
<text id="ABprpppppp" x="285" y="1277.1">ABprpppppp</text>
<text id="ABprpppppa" x="285" y="1285.4">ABprpppppa</text>
<text id="ABprppppap" x="285" y="1293.7">ABprppppap</text>
<text id="ABprppppaa" x="285" y="1302">ABprppppaa</text>
<text id="ABprpppapp" x="285" y="1310.3">ABprpppapp</text>
<text id="ABprpppapa" x="285" y="1318.6">ABprpppapa</text>
<text id="ABprpppaap" x="285" y="1326.9">ABprpppaap</text>
<text id="ABprpppaaa" x="285" y="1335.2">ABprpppaaa</text>
<text id="ABprppappp" x="285" y="1343.5">ABprppappp</text>
<text id="ABprppappa" x="285" y="1351.8">ABprppappa</text>
<text id="ABprppapap" x="285" y="1360.1">ABprppapap</text>
<text id="ABprppapaa" x="285" y="1368.4">ABprppapaa</text>
<text id="ABprppaapp" x="285" y="1376.7">ABprppaapp</text>
<text id="ABprppaapa" x="285" y="1385">ABprppaapa</text>
<text id="ABprppaaa" x="285" y="1393.3">ABprppaaa</text>
<text id="ABprpappp" x="285" y="1409.9">ABprpappp</text>
<text id="ABprpappa" x="285" y="1418.2">ABprpappa</text>
<text id="ABprpapap" x="285" y="1426.5">ABprpapap</text>
<text id="ABprpapaa" x="285" y="1434.8">ABprpapaa</text>
<text id="ABprpaappp" x="285" y="1443.1">ABprpaappp</text>
<text id="ABprpaappa" x="285" y="1451.4">ABprpaappa</text>
<text id="ABprpaapap" x="285" y="1459.7">ABprpaapap</text>
<text id="ABprpaapaa" x="285" y="1468">ABprpaapaa</text>
<text id="ABprpaaapp" x="285" y="1476.3">ABprpaaapp</text>
<text id="ABprpaaapa" x="285" y="1484.6">ABprpaaapa</text>
<text id="ABprpaaaap" x="285" y="1492.9">ABprpaaaap</text>
<text id="ABprpaaaaa" x="285" y="1501.2">ABprpaaaaa</text>
<text id="ABprappppp" x="285" y="1509.5">ABprappppp</text>
<text id="ABprappppa" x="285" y="1517.8">ABprappppa</text>
<text id="ABprapppap" x="285" y="1526.1">ABprapppap</text>
<text id="ABprapppaa" x="285" y="1534.4">ABprapppaa</text>
<text id="ABprappapp" x="285" y="1542.7">ABprappapp</text>
<text id="ABprappapa" x="285" y="1551">ABprappapa</text>
<text id="ABprappaap" x="285" y="1559.3">ABprappaap</text>
<text id="ABprappaaa" x="285" y="1567.6">ABprappaaa</text>
<text id="ABprapappp" x="285" y="1575.9">ABprapappp</text>
<text id="ABprapappa" x="285" y="1584.2">ABprapappa</text>
<text id="ABprapapap" x="285" y="1592.5">ABprapapap</text>
<text id="ABprapapaa" x="285" y="1600.8">ABprapapaa</text>
<text id="ABprapaapp" x="285" y="1609.1">ABprapaapp</text>
<text id="ABprapaapa" x="285" y="1617.4">ABprapaapa</text>
<text id="ABprapaaap" x="285" y="1625.7">ABprapaaap</text>
<text id="ABprapaaaa" x="285" y="1634">ABprapaaaa</text>
<text id="ABpraapppp" x="285" y="1642.3">ABpraapppp</text>
<text id="ABpraapppa" x="285" y="1650.6">ABpraapppa</text>
<text id="ABpraappap" x="285" y="1658.9">ABpraappap</text>
<text id="ABpraappaa" x="285" y="1667.2">ABpraappaa</text>
<text id="ABpraapapp" x="285" y="1675.5">ABpraapapp</text>
<text id="ABpraapapa" x="285" y="1683.8">ABpraapapa</text>
<text id="ABpraapaap" x="285" y="1692.1">ABpraapaap</text>
<text id="ABpraapaaa" x="285" y="1700.4">ABpraapaaa</text>
<text id="ABpraaappp" x="285" y="1708.7">ABpraaappp</text>
<text id="ABpraaappa" x="285" y="1717">ABpraaappa</text>
<text id="ABpraaapap" x="285" y="1725.3">ABpraaapap</text>
<text id="ABpraaapaa" x="285" y="1733.6">ABpraaapaa</text>
<text id="ABpraaaapp" x="285" y="1741.9">ABpraaaapp</text>
<text id="ABpraaaapa" x="285" y="1750.2">ABpraaaapa</text>
<text id="ABpraaaaap" x="285" y="1758.5">ABpraaaaap</text>
<text id="ABpraaaaaa" x="285" y="1766.8">ABpraaaaaa</text>
<text id="ABplpppppp" x="285" y="1775.1">ABplpppppp</text>
<text id="ABplpppppa" x="285" y="1783.4">ABplpppppa</text>
<text id="ABplppppap" x="285" y="1791.7">ABplppppap</text>
<text id="ABplppppaa" x="285" y="1800">ABplppppaa</text>
<text id="ABplpppapp" x="285" y="1808.3">ABplpppapp</text>
<text id="ABplpppapa" x="285" y="1816.6">ABplpppapa</text>
<text id="ABplpppaap" x="285" y="1824.9">ABplpppaap</text>
<text id="ABplpppaaa" x="285" y="1833.2">ABplpppaaa</text>
<text id="ABplppappp" x="285" y="1841.5">ABplppappp</text>
<text id="ABplppappa" x="285" y="1849.8">ABplppappa</text>
<text id="ABplppapap" x="285" y="1858.1">ABplppapap</text>
<text id="ABplppapaa" x="285" y="1866.4">ABplppapaa</text>
<text id="ABplppaapp" x="285" y="1874.7">ABplppaapp</text>
<text id="ABplppaapa" x="285" y="1883">ABplppaapa</text>
<text id="ABplppaaap" x="285" y="1891.3">ABplppaaap</text>
<text id="ABplppaaaa" x="285" y="1899.6">ABplppaaaa</text>
<text id="ABplpapppp" x="285" y="1907.9">ABplpapppp</text>
<text id="ABplpapppa" x="285" y="1916.2">ABplpapppa</text>
<text id="ABplpappap" x="285" y="1924.5">ABplpappap</text>
<text id="ABplpappaa" x="285" y="1932.8">ABplpappaa</text>
<text id="ABplpapapp" x="285" y="1941.1">ABplpapapp</text>
<text id="ABplpapapa" x="285" y="1949.4">ABplpapapa</text>
<text id="ABplpapaap" x="285" y="1957.7">ABplpapaap</text>
<text id="ABplpapaaa" x="285" y="1966">ABplpapaaa</text>
<text id="ABplpaappp" x="285" y="1974.3">ABplpaappp</text>
<text id="ABplpaappa" x="285" y="1982.6">ABplpaappa</text>
<text id="ABplpaapap" x="285" y="1990.9">ABplpaapap</text>
<text id="ABplpaapaa" x="285" y="1999.2">ABplpaapaa</text>
<text id="ABplpaaapp" x="285" y="2007.5">ABplpaaapp</text>
<text id="ABplpaaapa" x="285" y="2015.8">ABplpaaapa</text>
<text id="ABplpaaaap" x="285" y="2024.1">ABplpaaaap</text>
<text id="ABplpaaaaa" x="285" y="2032.4">ABplpaaaaa</text>
<text id="ABplappppp" x="285" y="2040.7">ABplappppp</text>
<text id="ABplappppa" x="285" y="2049">ABplappppa</text>
<text id="ABplapppap" x="285" y="2057.3">ABplapppap</text>
<text id="ABplapppaa" x="285" y="2065.6">ABplapppaa</text>
<text id="ABplappapp" x="285" y="2073.9">ABplappapp</text>
<text id="ABplappapa" x="285" y="2082.2">ABplappapa</text>
<text id="ABplappaap" x="285" y="2090.5">ABplappaap</text>
<text id="ABplappaaa" x="285" y="2098.8">ABplappaaa</text>
<text id="ABplapappp" x="285" y="2107.1">ABplapappp</text>
<text id="ABplapappa" x="285" y="2115.4">ABplapappa</text>
<text id="ABplapapap" x="285" y="2123.7">ABplapapap</text>
<text id="ABplapapaa" x="285" y="2132">ABplapapaa</text>
<text id="ABplapaapp" x="285" y="2140.3">ABplapaapp</text>
<text id="ABplapaapa" x="285" y="2148.6">ABplapaapa</text>
<text id="ABplapaaap" x="285" y="2156.9">ABplapaaap</text>
<text id="ABplapaaaa" x="285" y="2165.2">ABplapaaaa</text>
<text id="ABplaapppp" x="285" y="2173.5">ABplaapppp</text>
<text id="ABplaapppa" x="285" y="2181.8">ABplaapppa</text>
<text id="ABplaappap" x="285" y="2190.1">ABplaappap</text>
<text id="ABplaappaa" x="285" y="2198.4">ABplaappaa</text>
<text id="ABplaapapp" x="285" y="2206.7">ABplaapapp</text>
<text id="ABplaapapa" x="285" y="2215">ABplaapapa</text>
<text id="ABplaapaap" x="285" y="2223.3">ABplaapaap</text>
<text id="ABplaapaaa" x="285" y="2231.6">ABplaapaaa</text>
<text id="ABplaaappp" x="285" y="2239.9">ABplaaappp</text>
<text id="ABplaaappa" x="285" y="2248.2">ABplaaappa</text>
<text id="ABplaaapap" x="285" y="2256.5">ABplaaapap</text>
<text id="ABplaaapaa" x="285" y="2264.8">ABplaaapaa</text>
<text id="ABplaaaapp" x="285" y="2273.1">ABplaaaapp</text>
<text id="ABplaaaapa" x="285" y="2281.4">ABplaaaapa</text>
<text id="ABplaaaaap" x="285" y="2289.7">ABplaaaaap</text>
<text id="ABplaaaaaa" x="285" y="2298">ABplaaaaaa</text>
<text id="ABarpppppp" x="285" y="2306.3">ABarpppppp</text>
<text id="ABarpppppa" x="285" y="2314.6">ABarpppppa</text>
<text id="ABarppppap" x="285" y="2322.9">ABarppppap</text>
<text id="ABarppppaa" x="285" y="2331.2">ABarppppaa</text>
<text id="ABarpppapp" x="285" y="2339.5">ABarpppapp</text>
<text id="ABarpppapa" x="285" y="2347.8">ABarpppapa</text>
<text id="ABarpppaap" x="285" y="2356.1">ABarpppaap</text>
<text id="ABarpppaaa" x="285" y="2364.4">ABarpppaaa</text>
<text id="ABarppappp" x="285" y="2372.7">ABarppappp</text>
<text id="ABarppappa" x="285" y="2381">ABarppappa</text>
<text id="ABarppapap" x="285" y="2389.3">ABarppapap</text>
<text id="ABarppapaa" x="285" y="2397.6">ABarppapaa</text>
<text id="ABarppaapp" x="285" y="2405.9">ABarppaapp</text>
<text id="ABarppaapa" x="285" y="2414.2">ABarppaapa</text>
<text id="ABarppaaap" x="285" y="2422.5">ABarppaaap</text>
<text id="ABarppaaaa" x="285" y="2430.8">ABarppaaaa</text>
<text id="ABarpapppp" x="285" y="2439.1">ABarpapppp</text>
<text id="ABarpapppa" x="285" y="2447.4">ABarpapppa</text>
<text id="ABarpappap" x="285" y="2455.7">ABarpappap</text>
<text id="ABarpappaa" x="285" y="2464">ABarpappaa</text>
<text id="ABarpapapp" x="285" y="2472.3">ABarpapapp</text>
<text id="ABarpapapa" x="285" y="2480.6">ABarpapapa</text>
<text id="ABarpapaap" x="285" y="2488.9">ABarpapaap</text>
<text id="ABarpapaaa" x="285" y="2497.2">ABarpapaaa</text>
<text id="ABarpaappp" x="285" y="2505.5">ABarpaappp</text>
<text id="ABarpaappa" x="285" y="2513.8">ABarpaappa</text>
<text id="ABarpaapap" x="285" y="2522.1">ABarpaapap</text>
<text id="ABarpaapaa" x="285" y="2530.4">ABarpaapaa</text>
<text id="ABarpaaapp" x="285" y="2538.7">ABarpaaapp</text>
<text id="ABarpaaapa" x="285" y="2547">ABarpaaapa</text>
<text id="ABarpaaaap" x="285" y="2555.3">ABarpaaaap</text>
<text id="ABarpaaaaa" x="285" y="2563.6">ABarpaaaaa</text>
<text id="ABarappppp" x="285" y="2571.9">ABarappppp</text>
<text id="ABarappppa" x="285" y="2580.2">ABarappppa</text>
<text id="ABarapppap" x="285" y="2588.5">ABarapppap</text>
<text id="ABarapppaa" x="285" y="2596.8">ABarapppaa</text>
<text id="ABarappapp" x="285" y="2605.1">ABarappapp</text>
<text id="ABarappapa" x="285" y="2613.4">ABarappapa</text>
<text id="ABarappaap" x="285" y="2621.7">ABarappaap</text>
<text id="ABarappaaa" x="285" y="2630">ABarappaaa</text>
<text id="ABarapappp" x="285" y="2638.3">ABarapappp</text>
<text id="ABarapappa" x="285" y="2646.6">ABarapappa</text>
<text id="ABarapapap" x="285" y="2654.9">ABarapapap</text>
<text id="ABarapapaa" x="285" y="2663.2">ABarapapaa</text>
<text id="ABarapaapp" x="285" y="2671.5">ABarapaapp</text>
<text id="ABarapaapa" x="285" y="2679.8">ABarapaapa</text>
<text id="ABarapaaap" x="285" y="2688.1">ABarapaaap</text>
<text id="ABarapaaaa" x="285" y="2696.4">ABarapaaaa</text>
<text id="ABaraapppp" x="285" y="2704.7">ABaraapppp</text>
<text id="ABaraapppa" x="285" y="2713">ABaraapppa</text>
<text id="ABaraappap" x="285" y="2721.3">ABaraappap</text>
<text id="ABaraappaa" x="285" y="2729.6">ABaraappaa</text>
<text id="ABaraapapp" x="285" y="2737.9">ABaraapapp</text>
<text id="ABaraapapa" x="285" y="2746.2">ABaraapapa</text>
<text id="ABaraapaap" x="285" y="2754.5">ABaraapaap</text>
<text id="ABaraapaaa" x="285" y="2762.8">ABaraapaaa</text>
<text id="ABaraaappp" x="285" y="2771.1">ABaraaappp</text>
<text id="ABaraaappa" x="285" y="2779.4">ABaraaappa</text>
<text id="ABaraaapap" x="285" y="2787.7">ABaraaapap</text>
<text id="ABaraaapaa" x="285" y="2796">ABaraaapaa</text>
<text id="ABaraaaapp" x="285" y="2804.3">ABaraaaapp</text>
<text id="ABaraaaapa" x="285" y="2812.6">ABaraaaapa</text>
<text id="ABaraaaaap" x="285" y="2820.9">ABaraaaaap</text>
<text id="ABaraaaaaa" x="285" y="2829.2">ABaraaaaaa</text>
<text id="ABalpppppp" x="285" y="2837.5">ABalpppppp</text>
<text id="ABalpppppa" x="285" y="2845.8">ABalpppppa</text>
<text id="ABalppppap" x="285" y="2854.1">ABalppppap</text>
<text id="ABalppppaa" x="285" y="2862.4">ABalppppaa</text>
<text id="ABalpppapp" x="285" y="2870.7">ABalpppapp</text>
<text id="ABalpppapa" x="285" y="2879">ABalpppapa</text>
<text id="ABalpppaap" x="285" y="2887.3">ABalpppaap</text>
<text id="ABalpppaaa" x="285" y="2895.6">ABalpppaaa</text>
<text id="ABalppappp" x="285" y="2903.9">ABalppappp</text>
<text id="ABalppappa" x="285" y="2912.2">ABalppappa</text>
<text id="ABalppapap" x="285" y="2920.5">ABalppapap</text>
<text id="ABalppapaa" x="285" y="2928.8">ABalppapaa</text>
<text id="ABalppaapp" x="285" y="2937.1">ABalppaapp</text>
<text id="ABalppaapa" x="285" y="2945.4">ABalppaapa</text>
<text id="ABalppaaap" x="285" y="2953.7">ABalppaaap</text>
<text id="ABalppaaaa" x="285" y="2962">ABalppaaaa</text>
<text id="ABalpapppp" x="285" y="2970.3">ABalpapppp</text>
<text id="ABalpapppa" x="285" y="2978.6">ABalpapppa</text>
<text id="ABalpappap" x="285" y="2986.9">ABalpappap</text>
<text id="ABalpappaa" x="285" y="2995.2">ABalpappaa</text>
<text id="ABalpapapp" x="285" y="3003.5">ABalpapapp</text>
<text id="ABalpapapa" x="285" y="3011.8">ABalpapapa</text>
<text id="ABalpapaap" x="285" y="3020.1">ABalpapaap</text>
<text id="ABalpapaaa" x="285" y="3028.4">ABalpapaaa</text>
<text id="ABalpaappp" x="285" y="3036.7">ABalpaappp</text>
<text id="ABalpaappa" x="285" y="3045">ABalpaappa</text>
<text id="ABalpaapap" x="285" y="3053.3">ABalpaapap</text>
<text id="ABalpaapaa" x="285" y="3061.6">ABalpaapaa</text>
<text id="ABalpaaapp" x="285" y="3069.9">ABalpaaapp</text>
<text id="ABalpaaapa" x="285" y="3078.2">ABalpaaapa</text>
<text id="ABalpaaaap" x="285" y="3086.5">ABalpaaaap</text>
<text id="ABalpaaaaa" x="285" y="3094.8">ABalpaaaaa</text>
<text id="ABalappppp" x="285" y="3103.1">ABalappppp</text>
<text id="ABalappppa" x="285" y="3111.4">ABalappppa</text>
<text id="ABalapppap" x="285" y="3119.7">ABalapppap</text>
<text id="ABalapppaa" x="285" y="3128">ABalapppaa</text>
<text id="ABalappapp" x="285" y="3136.3">ABalappapp</text>
<text id="ABalappapa" x="285" y="3144.6">ABalappapa</text>
<text id="ABalappaap" x="285" y="3152.9">ABalappaap</text>
<text id="ABalappaaa" x="285" y="3161.2">ABalappaaa</text>
<text id="ABalapappp" x="285" y="3169.5">ABalapappp</text>
<text id="ABalapappa" x="285" y="3177.8">ABalapappa</text>
<text id="ABalapapap" x="285" y="3186.1">ABalapapap</text>
<text id="ABalapapaa" x="285" y="3194.4">ABalapapaa</text>
<text id="ABalapaapp" x="285" y="3202.7">ABalapaapp</text>
<text id="ABalapaapa" x="285" y="3211">ABalapaapa</text>
<text id="ABalapaaap" x="285" y="3219.3">ABalapaaap</text>
<text id="ABalapaaaa" x="285" y="3227.6">ABalapaaaa</text>
<text id="ABalaapppp" x="285" y="3235.9">ABalaapppp</text>
<text id="ABalaapppa" x="285" y="3244.2">ABalaapppa</text>
<text id="ABalaappap" x="285" y="3252.5">ABalaappap</text>
<text id="ABalaappaa" x="285" y="3260.8">ABalaappaa</text>
<text id="ABalaapapp" x="285" y="3269.1">ABalaapapp</text>
<text id="ABalaapapa" x="285" y="3277.4">ABalaapapa</text>
<text id="ABalaapaap" x="285" y="3285.7">ABalaapaap</text>
<text id="ABalaapaaa" x="285" y="3294">ABalaapaaa</text>
<text id="ABalaaappr" x="285" y="3302.3">ABalaaappr</text>
<text id="ABalaaappl" x="285" y="3310.6">ABalaaappl</text>
<text id="ABalaaapar" x="285" y="3318.9">ABalaaapar</text>
<text id="ABalaaapal" x="285" y="3327.2">ABalaaapal</text>
<text id="ABalaaaarr" x="285" y="3335.5">ABalaaaarr</text>
<text id="ABalaaaarl" x="285" y="3343.8">ABalaaaarl</text>
<text id="ABalaaaalp" x="285" y="3352.1">ABalaaaalp</text>
<text id="ABalaaaala" x="285" y="3360.4">ABalaaaala</text>
</g>
</svg>
